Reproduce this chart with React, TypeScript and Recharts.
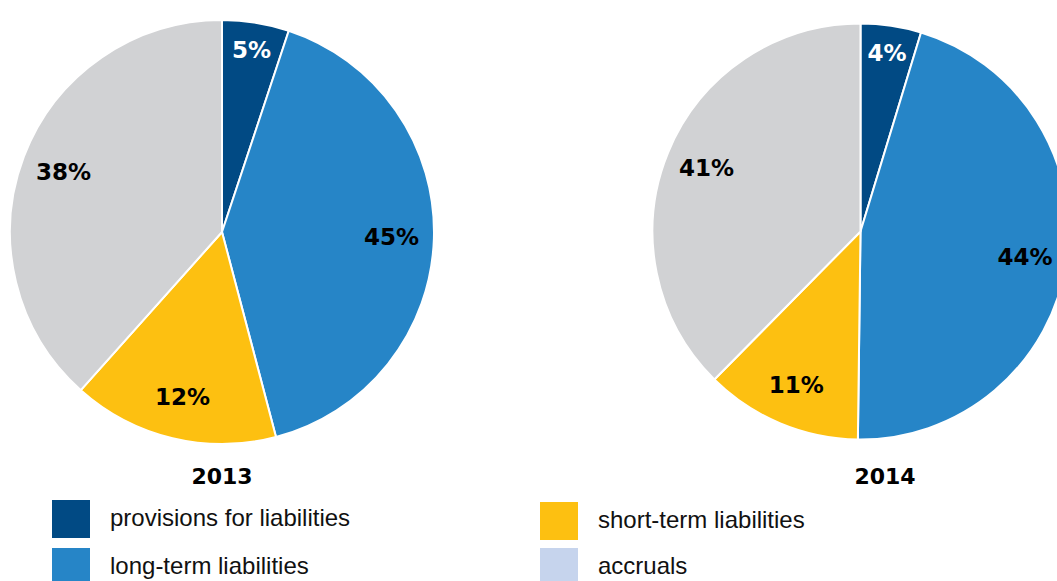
import React from "react";
import { PieChart, Pie, Cell } from "recharts";

const categories = [
  "provisions for liabilities",
  "long-term liabilities",
  "short-term liabilities",
  "accruals",
];
const values2013 = [5.1, 40.8, 15.7, 38.4];
const labels2013 = ["5%", "45%", "12%", "38%"];
const values2014 = [4.7, 45.5, 12.2, 37.6];
const labels2014 = ["4%", "44%", "11%", "41%"];
const years = ["2013", "2014"];

const sliceColors = ["#014a84", "#2685c7", "#fdc011", "#d1d2d4"];
const legendColors = ["#014a84", "#2685c7", "#fdc011", "#c6d4ed"];
const labelColors = ["#ffffff", "#000000", "#000000", "#000000"];

const RAD = Math.PI / 180;

const data2013 = categories.map((name, i) => ({ name, value: values2013[i], label: labels2013[i] }));
const data2014 = categories.map((name, i) => ({ name, value: values2014[i], label: labels2014[i] }));

const renderLabel = (props: any) => {
  const { cx, cy, midAngle, outerRadius, index, payload } = props;
  const r = outerRadius * (index === 0 ? 0.87 : 0.8);
  const x = cx + r * Math.cos(-midAngle * RAD);
  const y = cy + r * Math.sin(-midAngle * RAD);
  const text = payload?.label ?? props.label;
  return (
    <text
      x={x}
      y={y}
      textAnchor="middle"
      dominantBaseline="central"
      fill={labelColors[index]}
      fontFamily="'DejaVu Sans', sans-serif"
      fontWeight="bold"
      fontSize={23}
    >
      {text}
    </text>
  );
};

const yearStyle: React.CSSProperties = {
  position: "absolute",
  fontFamily: "'DejaVu Sans', sans-serif",
  fontWeight: "bold",
  fontSize: 22,
  color: "#000",
  transform: "translate(-50%, -50%)",
  whiteSpace: "nowrap",
};

const legendTextStyle: React.CSSProperties = {
  position: "absolute",
  fontFamily: "'Liberation Sans', Arial, sans-serif",
  fontSize: 24,
  color: "#111",
  transform: "translateY(-50%)",
  whiteSpace: "nowrap",
};

export default function App() {
  const legendPos = [
    { x: 52, y: 500, tx: 110 },
    { x: 52, y: 548, tx: 110 },
    { x: 540, y: 502, tx: 598 },
    { x: 540, y: 548, tx: 598 },
  ];
  return (
    <div
      style={{
        position: "absolute",
        left: 0,
        top: 0,
        width: 1057,
        height: 581,
        overflow: "hidden",
        background: "#fff",
      }}
    >
      <PieChart width={1057} height={581} margin={{ top: 0, right: 0, bottom: 0, left: 0 }}>
        <Pie
          data={data2013}
          dataKey="value"
          nameKey="name"
          cx={222}
          cy={232}
          outerRadius={212}
          startAngle={90}
          endAngle={-270}
          stroke="#ffffff"
          strokeWidth={2}
          label={renderLabel}
          labelLine={false}
          isAnimationActive={false}
        >
          {data2013.map((d, i) => (
            <Cell key={d.name} fill={sliceColors[i]} />
          ))}
        </Pie>
        <Pie
          data={data2014}
          dataKey="value"
          nameKey="name"
          cx={860.5}
          cy={231.5}
          outerRadius={208}
          startAngle={90}
          endAngle={-270}
          stroke="#ffffff"
          strokeWidth={2}
          label={renderLabel}
          labelLine={false}
          isAnimationActive={false}
        >
          {data2014.map((d, i) => (
            <Cell key={d.name} fill={sliceColors[i]} />
          ))}
        </Pie>
      </PieChart>
      <div style={{ ...yearStyle, left: 222, top: 476 }}>{years[0]}</div>
      <div style={{ ...yearStyle, left: 885, top: 476 }}>{years[1]}</div>
      {categories.map((c, i) => (
        <React.Fragment key={c}>
          <div
            style={{
              position: "absolute",
              left: legendPos[i].x,
              top: legendPos[i].y,
              width: 38,
              height: 38,
              background: legendColors[i],
            }}
          />
          <div style={{ ...legendTextStyle, left: legendPos[i].tx, top: legendPos[i].y + 18 }}>{c}</div>
        </React.Fragment>
      ))}
    </div>
  );
}
